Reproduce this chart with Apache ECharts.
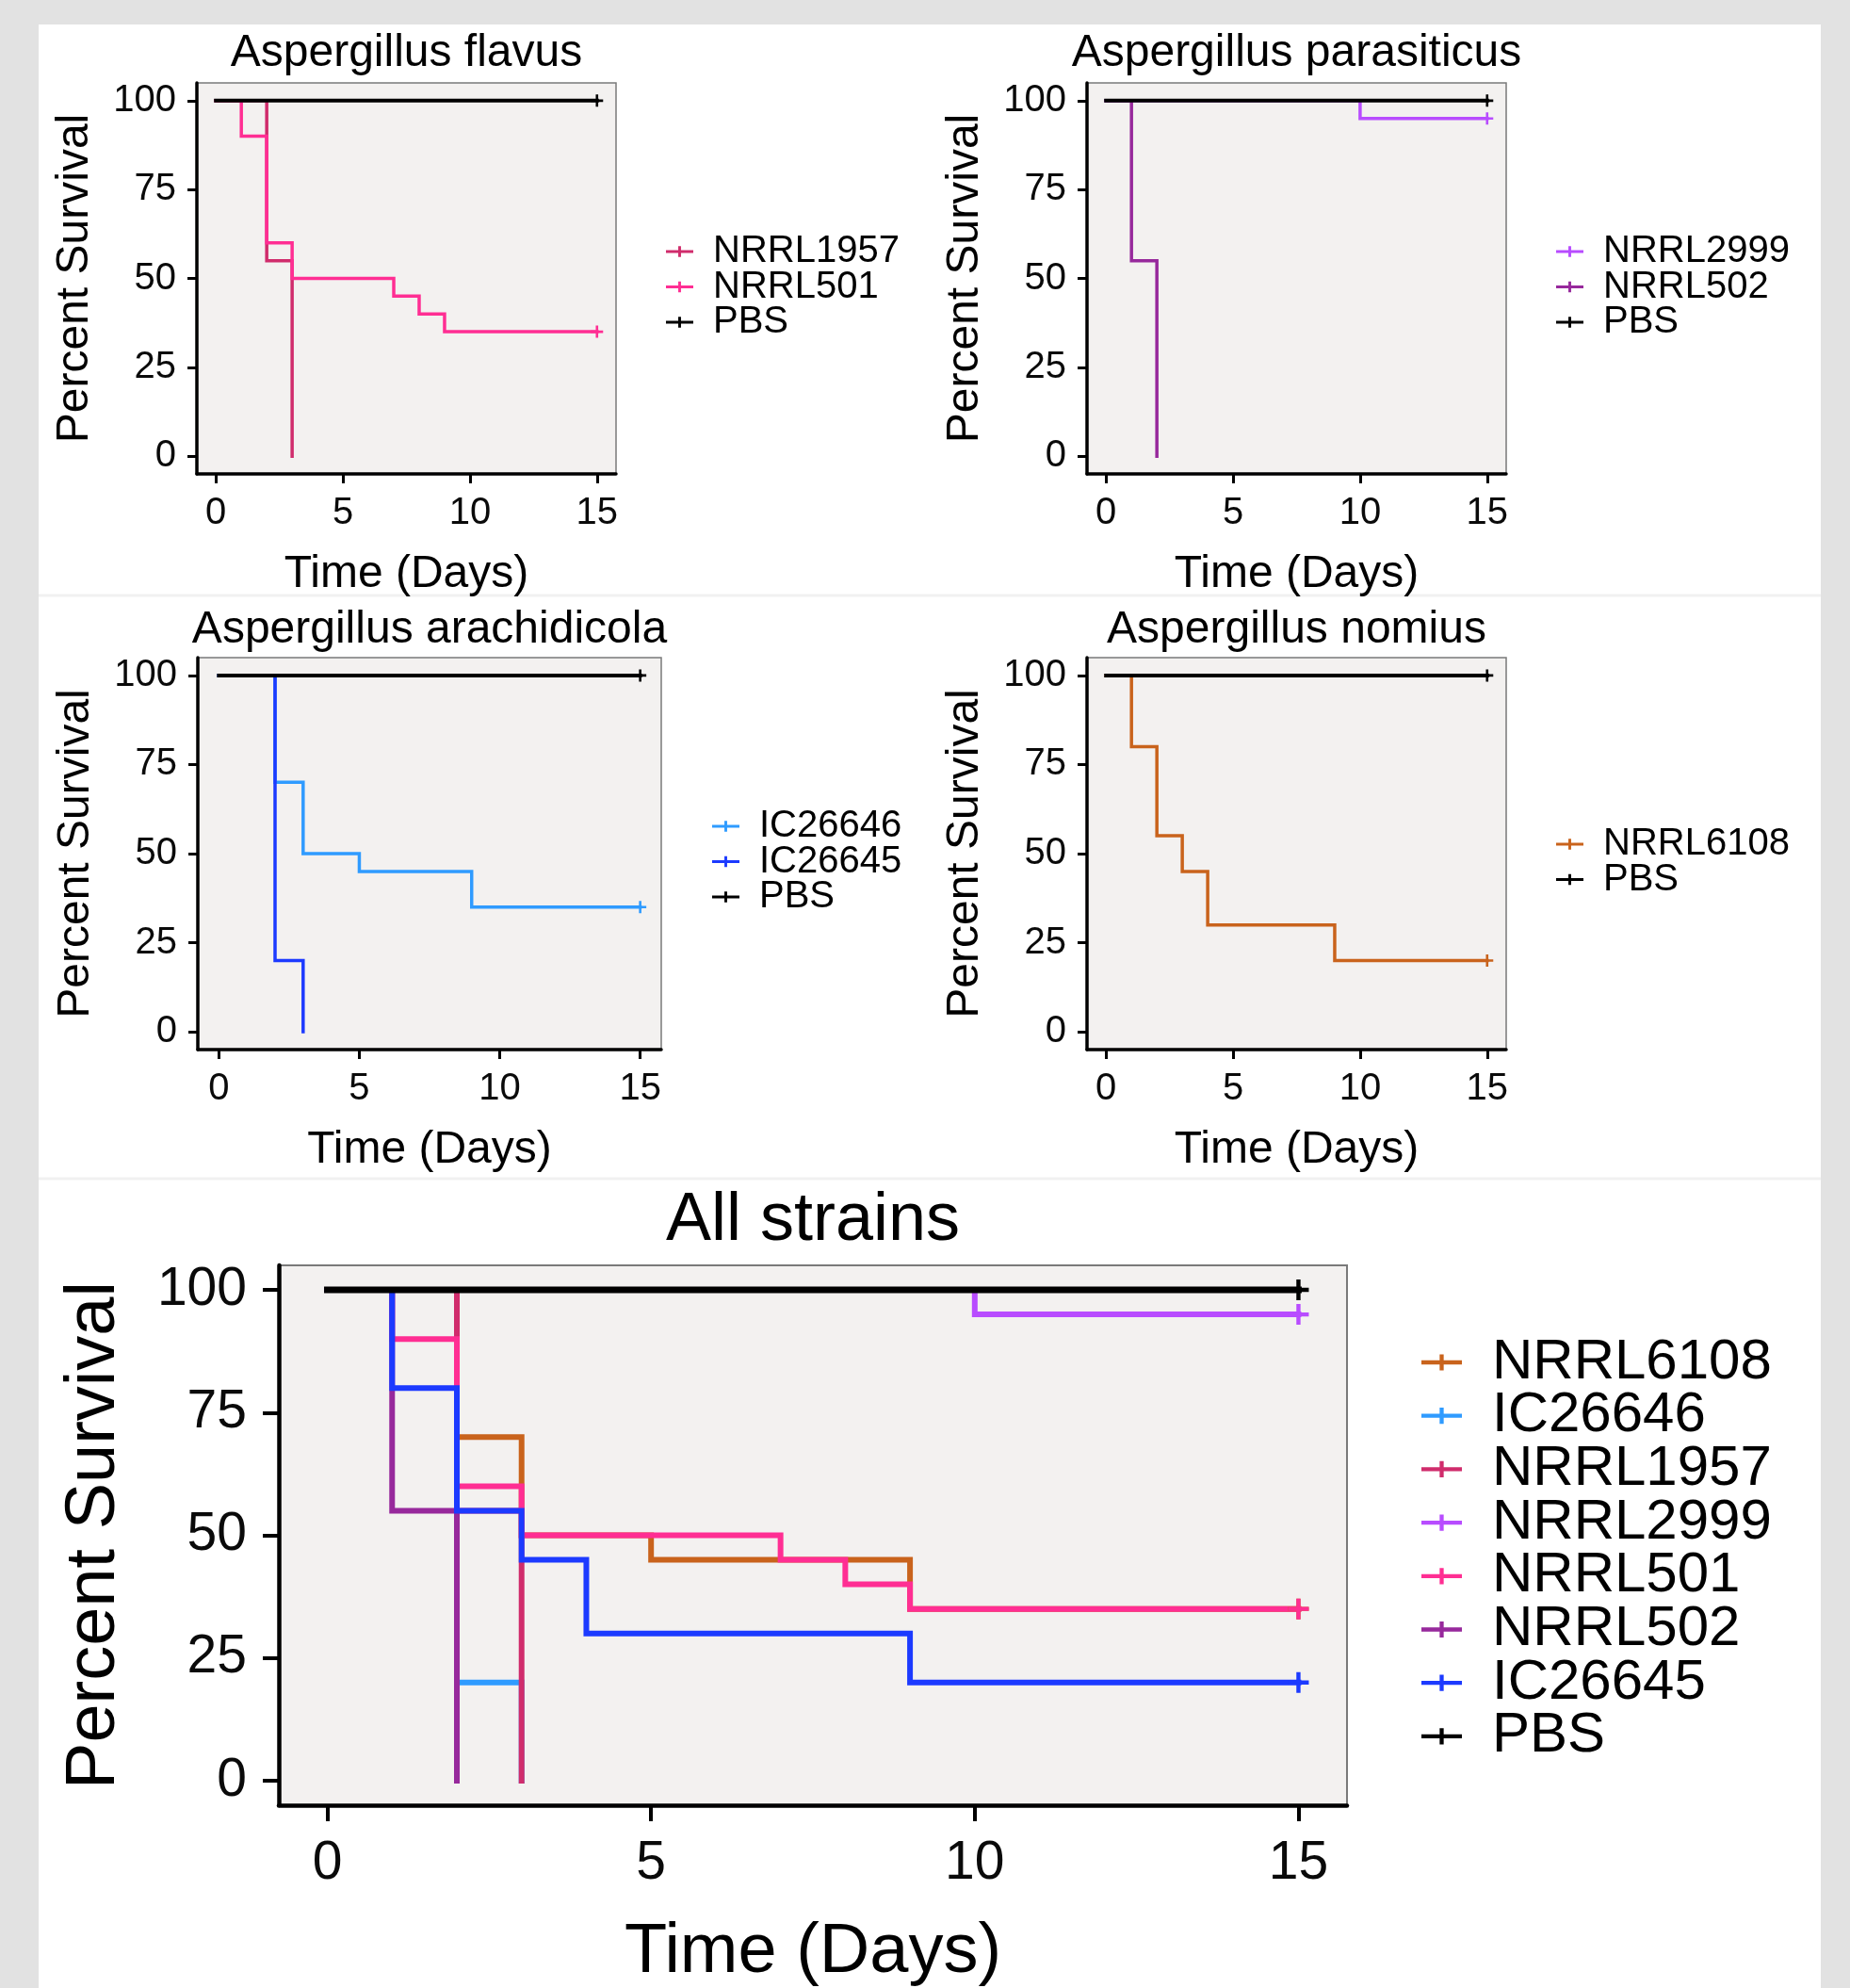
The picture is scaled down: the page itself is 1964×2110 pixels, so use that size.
<!DOCTYPE html>
<html>
<head>
<meta charset="utf-8">
<script src="https://cdn.jsdelivr.net/npm/echarts@6/dist/echarts.min.js"></script>
<style>
html,body{margin:0;padding:0;background:#e2e2e2;}
#chart{width:1964px;height:2110px;}
</style>
</head>
<body>
<div id="chart"></div>
<script>
// ---------------- DATA ----------------
const X_TICKS = [0, 5, 10, 15];
const Y_TICKS = [0, 25, 50, 75, 100];

const PANEL_TITLES = ['Aspergillus flavus', 'Aspergillus parasiticus', 'Aspergillus arachidicola', 'Aspergillus nomius', 'All strains'];

// Panel 1: Aspergillus flavus
const flavus_NRRL1957_days = [0, 2, 3];
const flavus_NRRL1957_surv = [100, 55, 0];
const flavus_NRRL501_days = [0, 1, 2, 3, 7, 8, 9, 15];
const flavus_NRRL501_surv = [100, 90, 60, 50, 45, 40, 35, 35];
const flavus_PBS_days = [0, 15];
const flavus_PBS_surv = [100, 100];

// Panel 2: Aspergillus parasiticus
const parasiticus_NRRL2999_days = [0, 10, 15];
const parasiticus_NRRL2999_surv = [100, 95, 95];
const parasiticus_NRRL502_days = [0, 1, 2];
const parasiticus_NRRL502_surv = [100, 55, 0];
const parasiticus_PBS_days = [0, 15];
const parasiticus_PBS_surv = [100, 100];

// Panel 3: Aspergillus arachidicola
const arachidicola_IC26646_days = [0, 2, 3, 5, 9, 15];
const arachidicola_IC26646_surv = [100, 70, 50, 45, 35, 35];
const arachidicola_IC26645_days = [0, 2, 3];
const arachidicola_IC26645_surv = [100, 20, 0];
const arachidicola_PBS_days = [0, 15];
const arachidicola_PBS_surv = [100, 100];

// Panel 4: Aspergillus nomius
const nomius_NRRL6108_days = [0, 1, 2, 3, 4, 9, 15];
const nomius_NRRL6108_surv = [100, 80, 55, 45, 30, 20, 20];
const nomius_PBS_days = [0, 15];
const nomius_PBS_surv = [100, 100];

// Panel 5: All strains (as drawn in the reference)
const all_NRRL6108_days = [0, 2, 3, 5, 9, 15];
const all_NRRL6108_surv = [100, 70, 50, 45, 35, 35];
const all_IC26646_days = [0, 2, 3];
const all_IC26646_surv = [100, 20, 0];
const all_NRRL1957_days = [0, 2, 3];
const all_NRRL1957_surv = [100, 55, 0];
const all_NRRL2999_days = [0, 10, 15];
const all_NRRL2999_surv = [100, 95, 95];
const all_NRRL501_days = [0, 1, 2, 3, 7, 8, 9, 15];
const all_NRRL501_surv = [100, 90, 60, 50, 45, 40, 35, 35];
const all_NRRL502_days = [0, 1, 2];
const all_NRRL502_surv = [100, 55, 0];
const all_IC26645_days = [0, 1, 2, 3, 4, 9, 15];
const all_IC26645_surv = [100, 80, 55, 45, 30, 20, 20];
const all_PBS_days = [0, 15];
const all_PBS_surv = [100, 100];

// ---------------- STYLE / LAYOUT ----------------
const COLORS = {
  NRRL6108: '#c9631c',
  IC26646: '#2f9bff',
  NRRL1957: '#d02c6c',
  NRRL2999: '#b84cff',
  NRRL501: '#ff2e93',
  NRRL502: '#97299c',
  IC26645: '#1c3aff',
  PBS: '#000000'
};
const FONT = "'Liberation Sans', Arial, Helvetica, sans-serif";
const PLUS = 'path://M0,8h20v4h-20z M8,0h4v20h-4z';
const LEGEND_PLUS = 'path://M0,6h40v4h-40z M18,0h4v16h-4z';

const small = {
  tickFont: 40, nameFont: 48, titleFont: 48, legendFont: 40,
  lineW: 3.5, pbsW: 4, axisW: 3.5, tickLen: 10, tickW: 3,
  labelMarginY: 22, labelMarginX: 22, nameGapX: 83, nameGapY: 105,
  censor: 13, legendIconW: 29, legendIconH: 13, legendGap: -2.5, legendPad: 16,
  borderW: 1.5
};
const big = {
  tickFont: 57, nameFont: 74, titleFont: 72, legendFont: 60,
  lineW: 6, pbsW: 7, axisW: 4.5, tickLen: 17, tickW: 4,
  labelMarginY: 34, labelMarginX: 34, nameGapX: 120, nameGapY: 158,
  censor: 22, legendIconW: 43, legendIconH: 18, legendGap: -3.3, legendPad: 27,
  borderW: 2
};

const panels = [
  { grid: {left: 209, top: 88, width: 445, height: 415}, titleTop: 33, legend: {left: 707, top: 247},
    st: small, curves: [
      ['NRRL1957', flavus_NRRL1957_days, flavus_NRRL1957_surv],
      ['NRRL501', flavus_NRRL501_days, flavus_NRRL501_surv],
      ['PBS', flavus_PBS_days, flavus_PBS_surv]]},
  { grid: {left: 1154, top: 88, width: 445, height: 415}, titleTop: 33, legend: {left: 1652, top: 247},
    st: small, curves: [
      ['NRRL2999', parasiticus_NRRL2999_days, parasiticus_NRRL2999_surv],
      ['NRRL502', parasiticus_NRRL502_days, parasiticus_NRRL502_surv],
      ['PBS', parasiticus_PBS_days, parasiticus_PBS_surv]]},
  { grid: {left: 210, top: 698, width: 492, height: 416}, titleTop: 645, legend: {left: 756, top: 857},
    st: small, curves: [
      ['IC26646', arachidicola_IC26646_days, arachidicola_IC26646_surv],
      ['IC26645', arachidicola_IC26645_days, arachidicola_IC26645_surv],
      ['PBS', arachidicola_PBS_days, arachidicola_PBS_surv]]},
  { grid: {left: 1154, top: 698, width: 445, height: 416}, titleTop: 645, legend: {left: 1652, top: 876},
    st: small, curves: [
      ['NRRL6108', nomius_NRRL6108_days, nomius_NRRL6108_surv],
      ['PBS', nomius_PBS_days, nomius_PBS_surv]]},
  { grid: {left: 296, top: 1343, width: 1134, height: 573}, titleTop: 1260, legend: {left: 1509, top: 1416},
    st: big, curves: [
      ['NRRL6108', all_NRRL6108_days, all_NRRL6108_surv],
      ['IC26646', all_IC26646_days, all_IC26646_surv],
      ['NRRL1957', all_NRRL1957_days, all_NRRL1957_surv],
      ['NRRL2999', all_NRRL2999_days, all_NRRL2999_surv],
      ['NRRL501', all_NRRL501_days, all_NRRL501_surv],
      ['NRRL502', all_NRRL502_days, all_NRRL502_surv],
      ['IC26645', all_IC26645_days, all_IC26645_surv],
      ['PBS', all_PBS_days, all_PBS_surv]]}
];

// ---------------- BUILD OPTION ----------------
const grids = [], xAxes = [], yAxes = [], titles = [], legends = [], series = [];

panels.forEach((p, i) => {
  const st = p.st;
  grids.push(Object.assign({
    show: true, backgroundColor: '#f3f1f0', borderColor: '#7a7a7a', borderWidth: st.borderW,
    containLabel: false, outerBoundsMode: 'none'
  }, p.grid));

  xAxes.push({
    type: 'value', gridIndex: i, min: -0.75, max: 15.75,
    name: 'Time (Days)', nameLocation: 'middle', nameGap: st.nameGapX,
    nameTextStyle: {fontSize: st.nameFont, color: '#000', fontFamily: FONT},
    axisLine: {show: true, onZero: false, lineStyle: {color: '#000', width: st.axisW}},
    axisTick: {show: true, customValues: X_TICKS, length: st.tickLen, lineStyle: {color: '#000', width: st.tickW}},
    axisLabel: {show: true, customValues: X_TICKS, fontSize: st.tickFont, color: '#0a0a0a', fontFamily: FONT, margin: st.labelMarginX},
    splitLine: {show: false}
  });
  yAxes.push({
    type: 'value', gridIndex: i, min: -5, max: 105,
    name: 'Percent Survival', nameLocation: 'middle', nameGap: st.nameGapY,
    nameTextStyle: {fontSize: st.nameFont, color: '#000', fontFamily: FONT},
    axisLine: {show: true, onZero: false, lineStyle: {color: '#000', width: st.axisW}},
    axisTick: {show: true, customValues: Y_TICKS, length: st.tickLen, lineStyle: {color: '#000', width: st.tickW}},
    axisLabel: {show: true, customValues: Y_TICKS, fontSize: st.tickFont, color: '#0a0a0a', fontFamily: FONT, margin: st.labelMarginY},
    splitLine: {show: false}
  });
  titles.push({
    text: PANEL_TITLES[i], left: p.grid.left + p.grid.width / 2, top: p.titleTop,
    textAlign: 'center', textVerticalAlign: 'top', padding: 0,
    textStyle: {fontSize: st.titleFont, fontWeight: 'normal', color: '#000', fontFamily: FONT}
  });
  legends.push({
    orient: 'vertical', left: p.legend.left, top: p.legend.top, padding: 0, itemGap: st.legendGap,
    data: p.curves.map(c => c[0]), icon: LEGEND_PLUS,
    itemWidth: st.legendIconW, itemHeight: st.legendIconH,
    itemStyle: {borderWidth: 0},
    selectedMode: false,
    textStyle: {fontSize: st.legendFont, color: '#000', fontFamily: FONT, padding: [0, 0, 0, st.legendPad]}
  });

  p.curves.forEach(c => {
    const [name, days, surv] = c;
    const col = COLORS[name];
    series.push({
      type: 'line', name: name, xAxisIndex: i, yAxisIndex: i, step: 'end',
      data: days.map((d, k) => [d, surv[k]]),
      symbol: 'none', showSymbol: false, color: col,
      lineStyle: {color: col, width: name === 'PBS' ? st.pbsW : st.lineW, cap: 'square', join: 'miter'},
      itemStyle: {color: col, borderWidth: 0},
      silent: true, animation: false, clip: false
    });
  });
  // censor marks ('+') at the last follow-up day for curves that do not reach 0
  p.curves.forEach(c => {
    const [name, days, surv] = c;
    const last = days.length - 1;
    if (surv[last] > 0) {
      series.push({
        type: 'scatter', xAxisIndex: i, yAxisIndex: i,
        data: [[days[last], surv[last]]],
        symbol: PLUS, symbolSize: st.censor,
        itemStyle: {color: COLORS[name], borderWidth: 0, opacity: 1},
        silent: true, animation: false, z: 3
      });
    }
  });
});

const chart = echarts.init(document.getElementById('chart'), null, {renderer: 'canvas', width: 1964, height: 2110});
chart.setOption({
  backgroundColor: '#e2e2e2',
  animation: false,
  textStyle: {fontFamily: FONT},
  graphic: [
    {type: 'rect', shape: {x: 41, y: 26, width: 1892, height: 2084}, style: {fill: '#ffffff'}, silent: true, z: -10},
    {type: 'line', shape: {x1: 41, y1: 632, x2: 1933, y2: 632}, style: {stroke: '#f1f1f1', lineWidth: 3}, silent: true, z: -9},
    {type: 'line', shape: {x1: 41, y1: 1251, x2: 1933, y2: 1251}, style: {stroke: '#f1f1f1', lineWidth: 3}, silent: true, z: -9}
  ],
  title: titles,
  legend: legends,
  grid: grids,
  xAxis: xAxes,
  yAxis: yAxes,
  series: series
});
</script>
</body>
</html>
